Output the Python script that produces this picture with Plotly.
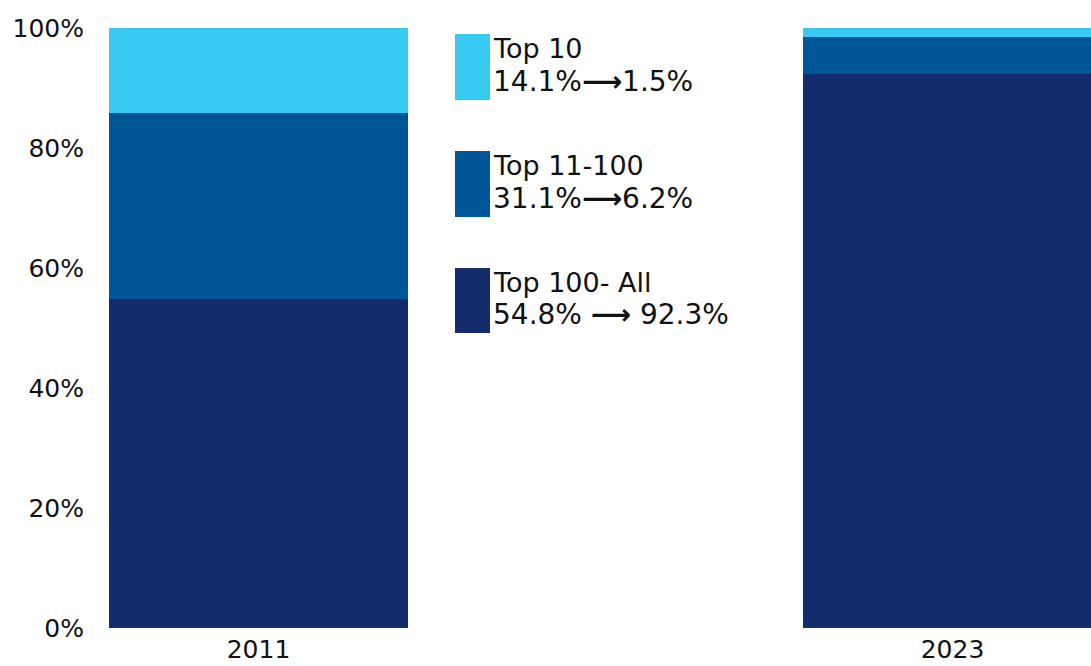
import plotly.graph_objects as go

years = ["2011", "2023"]
series_names = ["Top 100- All", "Top 11-100", "Top 10"]
top100_all = [54.8, 92.3]
top11_100 = [31.1, 6.2]
top10 = [14.1, 1.5]
colors = ["#142C6B", "#005596", "#38CAF0"]
y_ticks = [0, 20, 40, 60, 80, 100]
y_tick_labels = ["0%", "20%", "40%", "60%", "80%", "100%"]

W, H = 1091, 666
ML, MR, MT, MB = 95, 0, 28, 38
PW = W - ML - MR
PH = H - MT - MB

def px_x(sx):
    return (sx - ML) / PW

def px_y(sy):
    return (H - MB - sy) / PH

fig = go.Figure()
values = [top100_all, top11_100, top10]
for name, vals, col in zip(series_names, values, colors):
    fig.add_trace(go.Bar(x=years, y=vals, name=name, marker=dict(color=col, line=dict(width=0)),
                         width=0.431, hoverinfo="skip"))

font_family = "DejaVu Sans"
legend_items = [
    ("Top 10", top10, colors[2], 34, 100, "<b>⟶</b>"),
    ("Top 11-100", top11_100, colors[1], 151, 217, "<b>⟶</b>"),
    ("Top 100- All", top100_all, colors[0], 268, 333, " <b>⟶</b> "),
]
shapes = []
annotations = []
for name, vals, col, y0, y1, arrow in legend_items:
    c = (y0 + y1) / 2
    shapes.append(dict(type="rect", xref="paper", yref="paper",
                       x0=px_x(455), x1=px_x(490), y0=px_y(y1), y1=px_y(y0),
                       fillcolor=col, line=dict(width=0)))
    for txt, cy, fs in ((name, c - 18.5, 27), (f"{vals[0]}%{arrow}{vals[1]}%", c + 14, 28)):
        annotations.append(dict(xref="paper", yref="paper", x=px_x(491), y=px_y(cy),
                                xanchor="left", yanchor="middle", showarrow=False, align="left",
                                text=txt, font=dict(family=font_family, size=fs, color="#111111")))

fig.update_layout(
    width=W, height=H, barmode="stack", showlegend=False,
    margin=dict(l=ML, r=MR, t=MT, b=MB, pad=0),
    paper_bgcolor="white", plot_bgcolor="white",
    font=dict(family=font_family, size=26, color="#111111"),
    shapes=shapes, annotations=annotations,
    xaxis=dict(type="category", range=[-0.2356, 1.1996], showgrid=False, showline=False,
               ticks="", tickfont=dict(size=25), ticklabelstandoff=4),
    yaxis=dict(range=[0, 100], tickvals=y_ticks, ticktext=y_tick_labels, showgrid=False,
               showline=False, zeroline=False, ticks="", tickfont=dict(size=25),
               ticklabelstandoff=10),
)
fig.write_html(
    "out.html",
    config={"displayModeBar": False},
    post_script="document.body.style.margin='0';document.body.style.overflow='hidden';"
                "document.documentElement.style.overflow='hidden';",
)
